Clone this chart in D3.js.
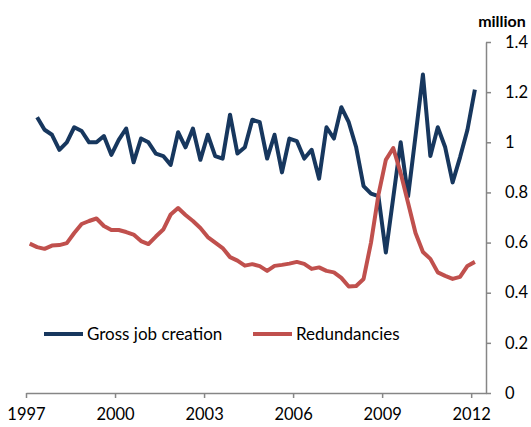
<!DOCTYPE html>
<html>
<head>
<meta charset="utf-8">
<script src="https://cdn.jsdelivr.net/npm/d3@7"></script>
<style>
  body { margin: 0; background: #fff; }
  text { font-family: Lato, "Open Sans", sans-serif; fill: #000; }
</style>
</head>
<body>
<div id="chart"></div>
<script>
  // quarters 1997Q1 .. 2012Q1, axis has one more empty slot at the end
  let startYear = 1997, nSlots = 62;
  let tickYears = [1997, 2000, 2003, 2006, 2009, 2012];
  let yTicks = [0, 0.2, 0.4, 0.6, 0.8, 1, 1.2, 1.4];

  let seriesNames = ['Gross job creation', 'Redundancies'];

  // million, quarterly (first quarter of job creation is missing)
  let jobCreation = [null,
    1.10, 1.05, 1.03, 0.97, 1.00, 1.06, 1.045, 1.00, 1.00, 1.025, 0.95,
    1.01, 1.055, 0.92, 1.015, 1.00, 0.955, 0.945, 0.91, 1.04, 0.98, 1.055, 0.93,
    1.03, 0.945, 0.935, 1.11, 0.955, 0.98, 1.09, 1.08, 0.935, 1.03, 0.88, 1.015,
    1.005, 0.935, 0.97, 0.855, 1.06, 1.015, 1.14, 1.08, 0.98, 0.825, 0.795, 0.785,
    0.56, 0.78, 1.00, 0.785, 1.025, 1.27, 0.945, 1.06, 0.98, 0.84, 0.94, 1.05,
    1.21];

  let redundancies = [
    0.596, 0.582, 0.575, 0.588, 0.59, 0.598, 0.638, 0.674, 0.686, 0.696, 0.666, 0.65,
    0.65, 0.642, 0.632, 0.606, 0.594, 0.624, 0.652, 0.712, 0.738, 0.71, 0.686, 0.658,
    0.622, 0.60, 0.578, 0.542, 0.528, 0.508, 0.514, 0.506, 0.487, 0.507, 0.511, 0.516,
    0.523, 0.515, 0.495, 0.501, 0.487, 0.481, 0.459, 0.425, 0.427, 0.455, 0.60, 0.79,
    0.93, 0.977, 0.877, 0.758, 0.638, 0.562, 0.535, 0.481, 0.467, 0.455, 0.463, 0.507,
    0.523];

  let colors = ['#17375E', '#C0504D'];

  let W = 531, H = 427;
  let svg = d3.select('#chart').append('svg').attr('width', W).attr('height', H);

  let x = d3.scaleLinear().domain([0, nSlots]).range([26, 486]);
  let y = d3.scaleLinear().domain([0, 1.4]).range([393, 42]);

  // x axis: tick every 12 quarters
  let xAxis = d3.axisBottom(x)
    .tickValues(tickYears.map(yr => (yr - startYear) * 4))
    .tickFormat(d => startYear + d / 4)
    .tickSize(5).tickPadding(10).tickSizeOuter(0);

  let gx = svg.append('g').attr('transform', `translate(0,${y(0)})`).call(xAxis);

  // y axis on the right
  let yAxis = d3.axisRight(y).tickValues(yTicks)
    .tickFormat(d => +d.toFixed(1))
    .tickSize(5).tickPadding(14).tickSizeOuter(0);

  let gy = svg.append('g').attr('transform', `translate(${x(nSlots)},0)`).call(yAxis);

  [gx, gy].forEach(g => {
    g.selectAll('path, line').attr('stroke', '#868686').attr('stroke-width', 1.5);
    g.selectAll('text').style('font-size', '16.5px').attr('fill', '#000');
  });

  svg.append('text').attr('x', 502).attr('y', 27).attr('text-anchor', 'middle')
    .style('font-size', '16px').style('font-weight', 'bold').text('million');

  // lines
  let line = d3.line()
    .defined(d => d != null)
    .x((d, i) => x(i + 0.5))
    .y(d => y(d));

  svg.selectAll('path.series').data([jobCreation, redundancies]).enter()
    .append('path').classed('series', true)
    .attr('d', line)
    .attr('fill', 'none')
    .attr('stroke', (d, i) => colors[i])
    .attr('stroke-width', 4)
    .attr('stroke-linejoin', 'round');

  // legend
  let legend = svg.selectAll('g.legend').data(seriesNames).enter()
    .append('g').classed('legend', true)
    .attr('transform', (d, i) => `translate(${[44, 253][i]},334)`);

  legend.append('line').attr('x1', 0).attr('x2', 39).attr('y1', 0).attr('y2', 0)
    .attr('stroke', (d, i) => colors[i]).attr('stroke-width', 4);

  legend.append('text').attr('x', 43).attr('y', 6)
    .style('font-size', '17px').text(d => d);
</script>
</body>
</html>
